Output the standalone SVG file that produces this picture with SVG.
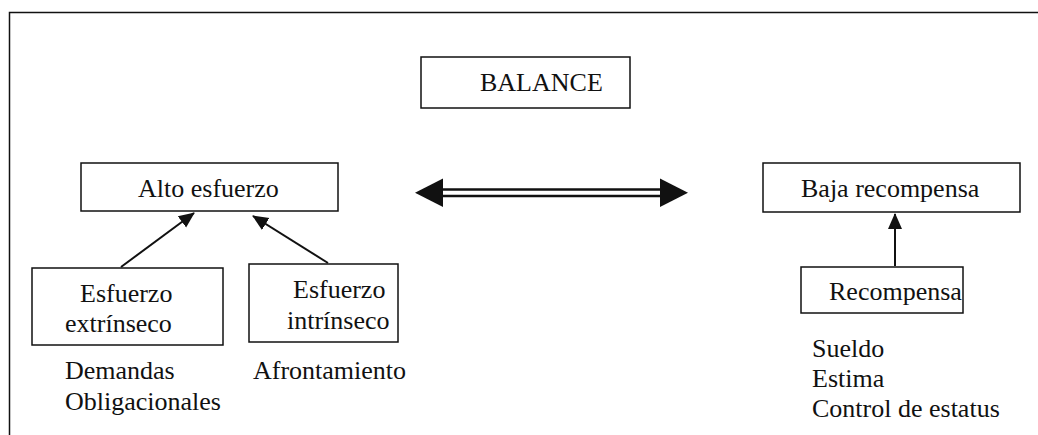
<svg xmlns="http://www.w3.org/2000/svg" width="1038" height="435" viewBox="0 0 1038 435">
<style>
.box{fill:#fff;stroke:#111;stroke-width:1.5}
.t{font-family:"Liberation Serif","Times New Roman",serif;font-size:26px;fill:#111}
.c{stroke:#111;stroke-width:2;fill:none}
.frame{stroke:#111;stroke-width:1.5;fill:none}
</style>
<defs>
<marker id="ah" markerUnits="userSpaceOnUse" markerWidth="16" markerHeight="16" viewBox="0 0 16 16" refX="15" refY="8" orient="auto">
<path d="M0,1 L16,8 L0,15 Z" fill="#111"/>
</marker>
</defs>
<path class="frame" d="M9.5,435 L9.5,12.5 L1038,12.5"/>
<g id="balance"><rect class="box" x="421" y="57" width="209" height="51"/><text class="t" x="480" y="91">BALANCE</text></g>
<g id="alto"><rect class="box" x="81" y="163" width="257" height="48"/><text class="t" x="138" y="197">Alto esfuerzo</text></g>
<g id="baja"><rect class="box" x="763" y="163" width="257" height="49"/><text class="t" x="801" y="197">Baja recompensa</text></g>
<g id="extrinseco"><rect class="box" x="32" y="268" width="191" height="77"/><text class="t" x="80" y="302">Esfuerzo</text><text class="t" x="65" y="332">extrínseco</text></g>
<g id="intrinseco"><rect class="box" x="249" y="264" width="149" height="78"/><text class="t" x="293" y="298">Esfuerzo</text><text class="t" x="287" y="329">intrínseco</text></g>
<g id="recompensa"><rect class="box" x="801" y="267" width="162" height="46"/><text class="t" x="829" y="300">Recompensa</text></g>
<g id="lista-izq"><text class="t" x="65" y="379">Demandas</text><text class="t" x="65" y="410">Obligacionales</text></g>
<g id="lista-afront"><text class="t" x="253" y="379">Afrontamiento</text></g>
<g id="lista-der"><text class="t" x="812" y="357">Sueldo</text><text class="t" x="812" y="387">Estima</text><text class="t" x="812" y="417">Control de estatus</text></g>
<g id="connectors">
<line class="c" x1="121" y1="267" x2="194" y2="213" marker-end="url(#ah)"/>
<line class="c" x1="328" y1="263" x2="253" y2="216" marker-end="url(#ah)"/>
<line class="c" x1="895" y1="266" x2="895" y2="214" marker-end="url(#ah)"/>
<g id="balance-arrow">
<line stroke="#111" stroke-width="2.5" x1="442" y1="189.5" x2="661" y2="189.5"/>
<line stroke="#111" stroke-width="2.5" x1="442" y1="196" x2="661" y2="196"/>
<polygon fill="#111" points="415,192.7 443,178.5 443,207"/>
<polygon fill="#111" points="688,192.7 660,178.5 660,207"/>
</g>
</g>
</svg>
